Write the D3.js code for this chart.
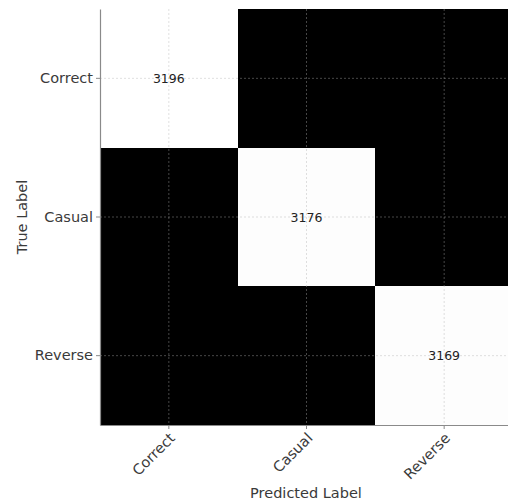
<!DOCTYPE html>
<html>
<head>
<meta charset="utf-8">
<script src="https://cdn.jsdelivr.net/npm/d3@7"></script>
<style>
  html, body { margin: 0; padding: 0; background: #fff; }
  svg { display: block; }
  text { font-family: "DejaVu Sans", sans-serif; fill: #3a3a3a; }
</style>
</head>
<body>
<script>
// Confusion matrix: rows = true label, columns = predicted label
const classes = ["Correct", "Casual", "Reverse"];
const rowCorrect = [3196, 0, 0];
const rowCasual  = [0, 3176, 0];
const rowReverse = [0, 0, 3169];
const matrix = [rowCorrect, rowCasual, rowReverse];

const W = 508, H = 502;
const margin = { left: 100, top: 9, right: -5, bottom: 77 };

const svg = d3.select("body").append("svg")
  .attr("width", W).attr("height", H);

const x = d3.scaleBand().domain(classes).range([margin.left, W - margin.right]);
const y = d3.scaleBand().domain(classes).range([margin.top, H - margin.bottom]);

const maxVal = d3.max(matrix.flat());
const color = d3.scaleLinear().domain([0, maxVal]).range(["#000000", "#ffffff"]);

const cells = [];
matrix.forEach((row, i) => row.forEach((v, j) => cells.push({ t: classes[i], p: classes[j], v })));

// heatmap cells
svg.append("g").selectAll("rect").data(cells).join("rect")
  .attr("x", d => x(d.p))
  .attr("y", d => y(d.t))
  .attr("width", x.bandwidth())
  .attr("height", y.bandwidth())
  .attr("fill", d => color(d.v))
  .attr("shape-rendering", "crispEdges");

// dotted grid through category centres
const grid = svg.append("g")
  .attr("stroke", "#b0b0b0")
  .attr("stroke-opacity", 0.4)
  .attr("stroke-width", 1)
  .attr("stroke-dasharray", "2,2");
classes.forEach(c => {
  const cx = x(c) + x.bandwidth() / 2;
  const cy = y(c) + y.bandwidth() / 2;
  grid.append("line").attr("x1", cx).attr("x2", cx)
    .attr("y1", margin.top).attr("y2", H - margin.bottom);
  grid.append("line").attr("y1", cy).attr("y2", cy)
    .attr("x1", margin.left).attr("x2", W);
});

// count labels (non-zero cells)
svg.append("g").selectAll("text").data(cells.filter(d => d.v > 0)).join("text")
  .attr("x", d => x(d.p) + x.bandwidth() / 2)
  .attr("y", d => y(d.t) + y.bandwidth() / 2)
  .attr("text-anchor", "middle")
  .attr("dominant-baseline", "central")
  .attr("font-size", "12.5px")
  .style("fill", "#222")
  .text(d => d.v);

// axes
const yAxis = svg.append("g")
  .attr("transform", `translate(${margin.left},0)`)
  .call(d3.axisLeft(y).tickSize(4).tickSizeOuter(0).tickPadding(3));
const xAxis = svg.append("g")
  .attr("transform", `translate(0,${H - margin.bottom})`)
  .call(d3.axisBottom(x).tickSize(4).tickSizeOuter(0).tickPadding(3));

[xAxis, yAxis].forEach(g => {
  g.select(".domain").attr("stroke", "#8a8a8a").attr("stroke-width", 1.2);
  g.selectAll(".tick line").attr("stroke", "#8a8a8a");
  g.selectAll(".tick text").attr("font-size", "14.5px").attr("font-family", "DejaVu Sans, sans-serif").style("fill", "#3a3a3a");
});

xAxis.selectAll(".tick text")
  .attr("text-anchor", "end")
  .attr("dy", 0)
  .attr("x", 0)
  .attr("y", 0)
  .attr("transform", "translate(7,14) rotate(-45)");

// axis titles
svg.append("text")
  .attr("x", 306).attr("y", 498)
  .attr("text-anchor", "middle")
  .attr("font-size", "14.5px")
  .text("Predicted Label");

svg.append("text")
  .attr("transform", "translate(27,217) rotate(-90)")
  .attr("text-anchor", "middle")
  .attr("font-size", "14.5px")
  .text("True Label");
</script>
</body>
</html>
